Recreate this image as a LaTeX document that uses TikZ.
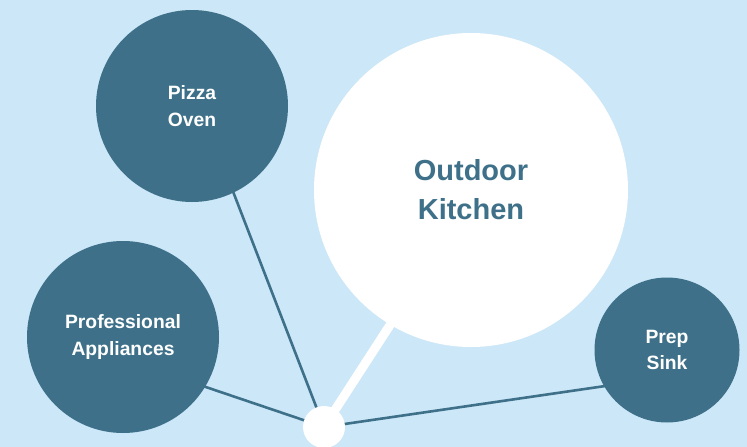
\documentclass[tikz,border=0pt]{standalone}
\usepackage{fontspec}
\setmainfont{Liberation Sans}
\definecolor{bgblue}{HTML}{CCE7F7}
\definecolor{teal}{HTML}{3E7189}
\begin{document}
\begin{tikzpicture}[x=1pt,y=-1pt,
  darkcirc/.style={circle,fill=teal,draw=none,inner sep=0pt,text=white,font=\bfseries\fontsize{19.3}{26.5}\selectfont,align=center},
  link/.style={draw=teal,line width=2.6pt},
  hub/.style={circle,fill=white,inner sep=0pt,minimum size=42pt}]
\fill[bgblue] (0,0) rectangle (747,447);
\useasboundingbox (0,0) rectangle (747,447);
% anchor coordinates
\coordinate (hubc) at (324,427);
\coordinate (pizzaA) at (200,106);
\coordinate (profA) at (123,359);
\coordinate (sinkA) at (667,377);
\coordinate (mainA) at (471,200);
% connectors
\draw[link] (hubc) -- (pizzaA);
\draw[link] (hubc) -- (profA);
\draw[link] (hubc) -- (sinkA);
\draw[white,line width=9pt] (hubc) -- (mainA);
% circles
\node[circle,fill=white,minimum size=314pt,inner sep=0pt,text=teal,font=\bfseries\fontsize{29}{39}\selectfont,align=center] (main) at (471,190) {Outdoor\\Kitchen};
\node[darkcirc,minimum size=192pt] (pizza) at (192,106) {Pizza\\Oven};
\node[darkcirc,minimum size=192pt] (prof) at (123,337) {Professional\\Appliances};
\node[darkcirc,minimum size=145pt] (sink) at (667,350) {Prep\\Sink};
\node[hub] (hub) at (hubc) {};
\end{tikzpicture}
\end{document}
